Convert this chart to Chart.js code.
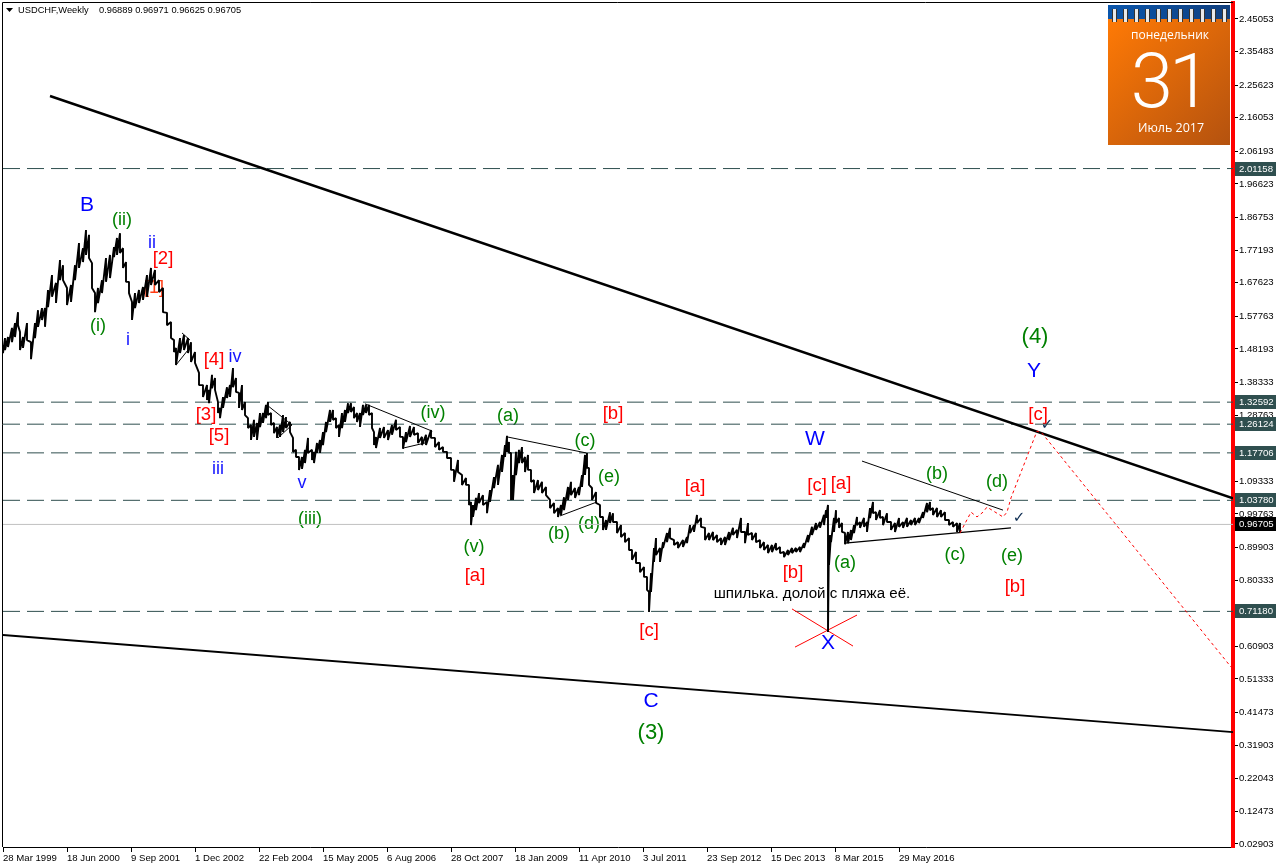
<!DOCTYPE html>
<html><head><meta charset="utf-8">
<style>html,body{margin:0;padding:0;background:#fff;overflow:hidden}canvas{display:block}</style>
<script src="https://cdn.jsdelivr.net/npm/chart.js@4"></script>
</head><body><canvas id="c" width="1276" height="868"></canvas>
<script>
// ---------- data (weeks since 28 Mar 1999, prices) ----------
const seriesName = "USDCHF,Weekly";
const lastQuote = ["0.96889","0.96971","0.96625","0.96705"];
const sampleWeeks = [0,2,5,9,12,15,17,20,24,28,32,35,39,42,45,49,53,57,60,64,68,72,76,80,83,86,89,92,95,99,103,107,111,114,117,120,123,126,129,132,136,140,144,148,152,156,160,164,168,171,173,177,181,185,188,192,196,200,204,206,209,212,215,217,220,224,227,230,233,236,239,242,245,248,251,254,257,260,263,265,268,271,274,277,280,283,287,290,293,296,299,302,305,309,311,314,317,320,323,327,330,333,336,339,342,345,348,351,354,357,360,363,366,369,371,373,377,381,385,389,393,397,400,403,407,411,415,419,423,428,432,436,440,444,448,451,455,459,463,466,468,470,473,476,480,484,487,491,495,499,502,504,506,508,510,513,516,519,522,525,528,531,535,539,543,547,551,555,558,561,565,568,572,576,579,582,584,586,589,593,597,600,603,607,610,614,618,622,626,629,633,637,641,644,646,648,651,653,657,660,664,667,671,675,680,684,687,691,694,698,702,706,710,714,718,722,726,730,734,738,742,745,749,753,757,761,765,769,773,777,781,785,789,793,797,801,805,809,813,817,821,823,825,826,828,831,833,836,839,842,845,848,851,854,857,861,864,867,870,873,877,880,884,888,892,896,900,904,908,912,916,920,924,927,930,934,938,942,946,950,954,957];
const sampleHigh = [1.494,1.514,1.517,1.544,1.558,1.590,1.532,1.517,1.558,1.502,1.558,1.596,1.602,1.602,1.655,1.699,1.676,1.743,1.728,1.661,1.670,1.728,1.793,1.778,1.831,1.817,1.734,1.646,1.661,1.684,1.749,1.758,1.781,1.808,1.822,1.778,1.737,1.679,1.620,1.646,1.655,1.664,1.699,1.720,1.714,1.684,1.661,1.588,1.561,1.508,1.485,1.514,1.523,1.514,1.502,1.473,1.412,1.376,1.376,1.362,1.406,1.397,1.326,1.309,1.341,1.370,1.376,1.426,1.397,1.353,1.376,1.326,1.279,1.259,1.274,1.265,1.294,1.294,1.318,1.326,1.294,1.265,1.253,1.259,1.288,1.282,1.268,1.221,1.186,1.165,1.165,1.186,1.221,1.186,1.180,1.206,1.215,1.238,1.268,1.303,1.303,1.279,1.259,1.294,1.303,1.323,1.323,1.312,1.294,1.294,1.318,1.318,1.318,1.294,1.238,1.224,1.250,1.253,1.244,1.259,1.274,1.253,1.224,1.238,1.256,1.253,1.235,1.224,1.230,1.244,1.221,1.209,1.194,1.180,1.162,1.127,1.156,1.112,1.103,1.083,1.033,1.024,1.045,1.059,1.053,1.033,1.068,1.106,1.142,1.171,1.200,1.227,1.209,1.177,1.112,1.180,1.186,1.194,1.165,1.171,1.127,1.097,1.097,1.092,1.077,1.039,1.030,1.015,1.024,1.047,1.077,1.092,1.074,1.077,1.112,1.171,1.177,1.133,1.074,1.062,1.024,0.989,0.980,1.003,1.000,0.974,0.965,0.942,0.927,0.892,0.886,0.854,0.842,0.813,0.769,0.824,0.898,0.927,0.898,0.915,0.942,0.957,0.921,0.915,0.921,0.930,0.965,0.965,0.995,0.986,0.957,0.942,0.945,0.936,0.927,0.930,0.945,0.957,0.951,0.986,0.945,0.971,0.942,0.942,0.921,0.915,0.907,0.907,0.912,0.901,0.886,0.892,0.898,0.898,0.901,0.912,0.936,0.960,0.971,0.974,0.995,1.009,1.024,0.936,0.936,0.986,1.009,0.986,0.971,0.942,0.945,0.951,0.965,0.989,0.974,0.986,0.974,1.015,1.033,1.003,1.009,0.989,1.000,0.974,0.971,0.986,0.974,0.986,0.980,0.986,0.986,1.003,1.030,1.033,1.015,1.015,1.009,1.003,0.980,0.974,0.971,0.971];
const sampleLow = [1.470,1.479,1.488,1.502,1.517,1.552,1.479,1.485,1.508,1.452,1.514,1.547,1.567,1.547,1.605,1.635,1.617,1.684,1.684,1.611,1.620,1.684,1.720,1.737,1.758,1.749,1.661,1.590,1.617,1.646,1.679,1.690,1.752,1.758,1.764,1.720,1.679,1.646,1.567,1.602,1.617,1.626,1.635,1.670,1.670,1.649,1.590,1.552,1.514,1.473,1.435,1.470,1.479,1.470,1.444,1.441,1.376,1.341,1.332,1.323,1.367,1.362,1.294,1.279,1.309,1.338,1.341,1.370,1.356,1.309,1.303,1.288,1.250,1.215,1.224,1.215,1.253,1.265,1.279,1.288,1.259,1.235,1.221,1.224,1.238,1.250,1.238,1.180,1.165,1.127,1.130,1.147,1.177,1.156,1.147,1.177,1.177,1.200,1.238,1.268,1.274,1.250,1.224,1.250,1.268,1.294,1.297,1.279,1.268,1.253,1.288,1.294,1.288,1.250,1.200,1.191,1.221,1.221,1.215,1.230,1.244,1.224,1.189,1.209,1.224,1.230,1.206,1.200,1.200,1.221,1.194,1.186,1.180,1.162,1.127,1.092,1.121,1.083,1.083,1.024,0.965,0.989,1.009,1.030,1.024,1.000,1.033,1.074,1.083,1.121,1.165,1.180,1.177,1.039,1.039,1.112,1.147,1.147,1.121,1.127,1.092,1.059,1.068,1.059,1.053,1.015,1.000,0.989,0.995,1.009,1.039,1.053,1.045,1.053,1.077,1.112,1.133,1.083,1.039,1.030,0.989,0.951,0.951,0.971,0.974,0.942,0.930,0.915,0.892,0.863,0.854,0.827,0.813,0.775,0.710,0.769,0.857,0.877,0.857,0.898,0.915,0.927,0.907,0.898,0.901,0.912,0.942,0.945,0.971,0.960,0.921,0.921,0.921,0.915,0.907,0.907,0.921,0.936,0.927,0.945,0.912,0.936,0.921,0.915,0.898,0.892,0.883,0.886,0.892,0.883,0.871,0.877,0.883,0.886,0.886,0.898,0.915,0.936,0.951,0.957,0.965,0.986,0.651,0.848,0.915,0.945,0.971,0.957,0.945,0.909,0.912,0.921,0.942,0.965,0.957,0.960,0.945,0.986,1.000,0.980,0.986,0.965,0.974,0.951,0.945,0.960,0.957,0.960,0.965,0.965,0.971,0.986,1.003,1.009,0.995,0.989,0.989,0.980,0.965,0.960,0.945,0.942];

const levelPrices = [2.01158,1.32592,1.26124,1.17706,1.03780,0.71180];
const lastPrice = 0.96705;
const yTickValues = [2.45053,2.35483,2.25623,2.16053,2.06193,1.96623,1.86753,1.77193,1.67623,1.57763,1.48193,1.38333,1.28763,1.18193,1.09333,0.99763,0.89903,0.80333,0.70473,0.60903,0.51333,0.41473,0.31903,0.22043,0.12473,0.02903];
const xTickWeeks = [0,64,128,192,256,320,384,448,512,576,640,704,768,832,896];
const xTickLabels = ["28 Mar 1999","18 Jun 2000","9 Sep 2001","1 Dec 2002","22 Feb 2004","15 May 2005","6 Aug 2006","28 Oct 2007","18 Jan 2009","11 Apr 2010","3 Jul 2011","23 Sep 2012","15 Dec 2013","8 Mar 2015","29 May 2016"];

const upperTrendWeeks = [47,1230];
const upperTrendPrices = [2.2245,1.0436];
const lowerTrendWeeks = [0,1230];
const lowerTrendPrices = [0.6425,0.3572];
// thin triangles, pairs of points: [week,price,week,price]
const thinSegments = [
 [173,1.435,185,1.479],[179,1.529,187,1.508],
 [265,1.315,289,1.259],[275,1.221,289,1.259],
 [362,1.321,429,1.241],[400,1.191,422,1.206],[422,1.206,429,1.241],
 [504,1.224,583,1.177],[557,0.992,594,1.033],
 [859,1.153,1000,1.009]];
const baseSegment = [842,0.912,1008,0.957];
const crossSegments = [[789,0.719,850,0.610],[792,0.607,854,0.701]];
const forecastWeeks = [957,968,974,980,984,1000,1004,1008,1034,1039,1228];
const forecastPrices = [0.942,1.003,0.989,1.003,1.018,0.989,1.003,1.045,1.241,1.235,0.5486];

const waveTexts  = ["B","(ii)","(i)","ii","i","[2]","[1]","[4]","iv","[3]","[5]","iii","v","(iii)","(iv)","(a)","(c)","[b]","(e)","(v)","[a]","(b)","(d)","[c]","[a]","W","[c]","[a]","(a)","[b]","X","C","(3)","(b)","(d)","(c)","(e)","[b]","(4)","Y","[c]"];
const waveWeeks  = [84,119,95,149,125,160,151,211,232,203,216,215,299,307,430,505,582,610,606,471,472,556,586,646,692,812,814,838,842,790,825,648,648,934,994,952,1009,1012,1032,1031,1035];
const wavePrices = [1.9046,1.8606,1.5494,1.7930,1.5083,1.7461,1.6610,1.4496,1.4584,1.2882,1.2265,1.1297,1.0886,0.9829,1.2941,1.2853,1.2119,1.2911,1.1062,0.9007,0.8156,0.9389,0.9683,0.6542,1.0769,1.2178,1.0798,1.0857,0.8538,0.8245,0.6190,0.4487,0.3548,1.1150,1.0915,0.8773,0.8743,0.7833,1.5171,1.4174,1.2882];
const waveKinds  = ["B","g","g","b","b","r","o","r","b","r","r","b","b","g","g","g","g","r","g","g","r","g","g","r","r","B","r","r","g","r","B","B","G","g","g","g","g","r","G","B","r"];
const noteText = "шпилька. долой с пляжа её.";
const noteAt = [809,0.7628];
const checkWeeks = [1016,1044];
const checkPrices = [0.9859,1.2589];
const calendarLines = ["понедельник","31","Июль 2017"];

// ---------- styles ----------
const kindStyle = {
  B:{color:"#0000ff",font:"21px 'Liberation Sans'"},
  b:{color:"#1414ff",font:"18px 'Liberation Sans'"},
  g:{color:"#008000",font:"18px 'Liberation Sans'"},
  G:{color:"#008000",font:"22px 'Liberation Sans'"},
  r:{color:"#ff0000",font:"18.5px 'Liberation Sans'"},
  o:{color:"#ff3c14",font:"18px 'Liberation Sans'"}
};
const AXIS_FONT = {family:"'Liberation Sans'",size:9.6};

function seg(a,color,width,dash){
  return {type:'line',data:[{x:a[0],y:a[1]},{x:a[2],y:a[3]}],borderColor:color,borderWidth:width,borderDash:dash||[],pointRadius:0,tension:0,order:3};
}
function priceZigzag(){
  const pts=[];
  sampleWeeks.forEach((w,i)=>{pts.push({x:w,y:sampleHigh[i]});pts.push({x:w,y:sampleLow[i]});});
  pts.push({x:957,y:lastPrice});
  return pts;
}
const datasets=[];
datasets.push({type:'line',data:[{x:0,y:lastPrice},{x:1230,y:lastPrice}],borderColor:'#c0c0c0',borderWidth:1,pointRadius:0,order:9});
levelPrices.forEach(p=>datasets.push({type:'line',data:[{x:0,y:p},{x:1230,y:p}],borderColor:'#2f4f4f',borderWidth:1,borderDash:[17,7],pointRadius:0,order:8}));
datasets.push({type:'line',data:priceZigzag(),borderColor:'#000',borderWidth:1.9,pointRadius:0,tension:0,order:2,borderJoinStyle:'bevel'});
datasets.push({type:'line',data:upperTrendWeeks.map((w,i)=>({x:w,y:upperTrendPrices[i]})),borderColor:'#000',borderWidth:2.4,pointRadius:0,order:1});
datasets.push({type:'line',data:lowerTrendWeeks.map((w,i)=>({x:w,y:lowerTrendPrices[i]})),borderColor:'#000',borderWidth:1.8,pointRadius:0,order:1});
thinSegments.forEach(s=>datasets.push(seg(s,'#000',1)));
datasets.push(seg(baseSegment,'#000',1.4));
crossSegments.forEach(s=>datasets.push(seg(s,'#ff0000',1)));
datasets.push({type:'line',data:forecastWeeks.map((w,i)=>({x:w,y:forecastPrices[i]})),borderColor:'#ff0000',borderWidth:1,borderDash:[3,3],pointRadius:0,order:0});

const chartDecor={
  id:'decor',
  beforeDatasetsDraw(ch){
    const c=ch.ctx,xs=ch.scales.x,ys=ch.scales.y,a=ch.chartArea;
    c.save();
    // chart frame
    c.strokeStyle='#000';c.lineWidth=1;c.beginPath();
    c.moveTo(a.left-0.5,a.bottom);c.lineTo(a.left-0.5,a.top-0.5);c.lineTo(a.right,a.top-0.5);c.stroke();
    // wave labels
    c.textAlign='center';c.textBaseline='middle';
    waveTexts.forEach((t,i)=>{
      const st=kindStyle[waveKinds[i]];
      c.font=st.font;c.fillStyle=st.color;
      c.fillText(t,xs.getPixelForValue(waveWeeks[i]),ys.getPixelForValue(wavePrices[i]));
    });
    c.font="15.1px 'Liberation Sans'";c.fillStyle='#000';
    c.fillText(noteText,xs.getPixelForValue(noteAt[0]),ys.getPixelForValue(noteAt[1]));
    c.font="bold 15px 'DejaVu Sans'";c.fillStyle='#0a2a50';
    checkWeeks.forEach((w,i)=>c.fillText("✓",xs.getPixelForValue(w),ys.getPixelForValue(checkPrices[i])));
    c.restore();
  },
  afterDraw(ch){
    const c=ch.ctx,ys=ch.scales.y;
    c.save();
    c.textBaseline='middle';
    // current-level boxes on the price axis
    const box=(p,bg)=>{
      const y=ys.getPixelForValue(p);
      c.fillStyle=bg;c.fillRect(1235,Math.round(y)-7,41,14);
      c.fillStyle='#fff';c.textAlign='left';c.font="9.6px 'Liberation Sans'";
      c.fillText(p.toFixed(5),1239,Math.round(y));
    };
    levelPrices.forEach(p=>box(p,'#2f4f4f'));
    box(lastPrice,'#000');
    // title
    c.fillStyle='#000';c.textAlign='left';c.font="9.3px 'Liberation Sans'";
    c.fillText(seriesName,18,10);
    c.fillText(lastQuote.join(" "),99,10);
    c.beginPath();c.moveTo(6,8);c.lineTo(13,8);c.lineTo(9.5,12);c.closePath();c.fill();
    // calendar
    const g=c.createLinearGradient(1108,19,1230,145);
    g.addColorStop(0,'#ff7a05');g.addColorStop(1,'#b4520f');
    c.fillStyle=g;c.fillRect(1108,5,122,140);
    const b=c.createLinearGradient(1108,5,1230,5);
    b.addColorStop(0,'#0a56ac');b.addColorStop(1,'#103f7e');
    c.fillStyle=b;c.fillRect(1108,5,122,14);
    for(let i=0;i<11;i++){
      const rx=1114+i*11;
      c.fillStyle='#333';c.fillRect(rx-2,9,5,13);
      c.fillStyle='#e8e8e8';c.fillRect(rx-1,9,3,13);
    }
    c.fillStyle='#fff';c.textAlign='center';
    c.font="12px 'Open Sans'";c.fillText(calendarLines[0],1170,36);
    c.font="300 76px 'Roboto'";
    if('letterSpacing' in c)c.letterSpacing='-4px';
    c.fillText(calendarLines[1],1169,88);
    if('letterSpacing' in c)c.letterSpacing='0px';
    c.font="12.5px 'Open Sans'";c.fillText(calendarLines[2],1171,128);
    c.restore();
  }
};

new Chart(document.getElementById('c'),{
  data:{datasets},
  plugins:[chartDecor],
  options:{
    responsive:false,animation:false,events:[],
    layout:{padding:{left:3,top:3,right:0,bottom:0}},
    plugins:{legend:{display:false},tooltip:{enabled:false},title:{display:false}},
    scales:{
      x:{type:'linear',min:0,max:1230,
        afterBuildTicks(s){s.ticks=xTickWeeks.map(v=>({value:v}));},
        afterFit(s){s.height=21;s.paddingLeft=0;s.paddingRight=0;},
        ticks:{autoSkip:false,maxRotation:0,minRotation:0,align:'start',padding:1,color:'#000',font:AXIS_FONT,
          callback:(v)=>xTickLabels[xTickWeeks.indexOf(v)]},
        grid:{drawOnChartArea:false,drawTicks:true,tickLength:5,tickColor:'#000',color:'#000'},
        border:{display:true,color:'#000',width:1}},
      y:{type:'linear',position:'right',min:0.02022,max:2.49749,
        afterBuildTicks(s){s.ticks=yTickValues.map(v=>({value:v}));},
        afterFit(s){s.width=43;s.paddingTop=0;s.paddingBottom=0;},
        ticks:{autoSkip:false,padding:1,color:'#000',font:AXIS_FONT,callback:(v)=>Number(v).toFixed(5)},
        grid:{drawOnChartArea:false,drawTicks:true,tickLength:5,tickColor:'#000',color:'#000'},
        border:{display:true,color:'#ff0000',width:4}}
    }
  }
});
</script></body></html>
